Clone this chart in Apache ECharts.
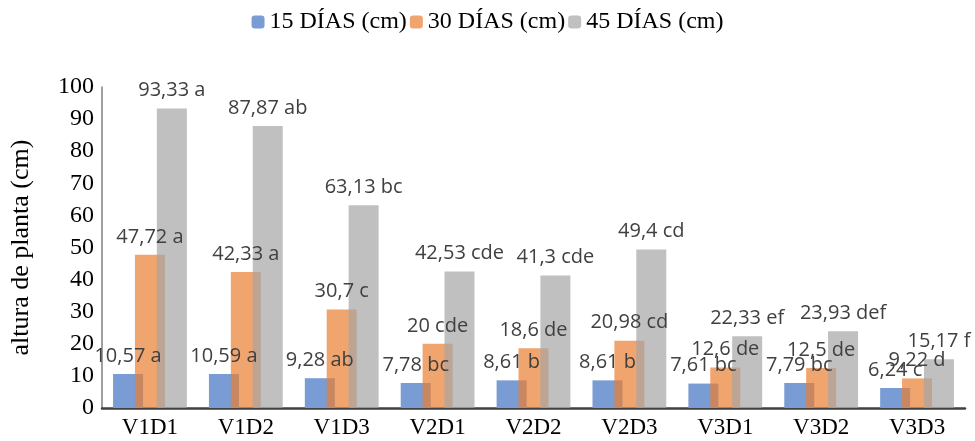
<!DOCTYPE html>
<html>
<head>
<meta charset="utf-8">
<script src="https://cdn.jsdelivr.net/npm/echarts@6/dist/echarts.min.js"></script>
<style>
  html, body { margin: 0; padding: 0; background: #fff; }
  #chart { width: 975px; height: 441px; }
</style>
</head>
<body>
<div id="chart"></div>
<script>
// datos
var categorias = ['V1D1', 'V1D2', 'V1D3', 'V2D1', 'V2D2', 'V2D3', 'V3D1', 'V3D2', 'V3D3'];
var nombres = ['15 DÍAS (cm)', '30 DÍAS (cm)', '45 DÍAS (cm)'];

var dias15 = [10.57, 10.59, 9.28, 7.78, 8.61, 8.61, 7.61, 7.79, 6.24];
var dias30 = [47.72, 42.33, 30.7, 20, 18.6, 20.98, 12.6, 12.5, 9.22];
var dias45 = [93.33, 87.87, 63.13, 42.53, 41.3, 49.4, 22.33, 23.93, 15.17];

var letras15 = ['a', 'a', 'ab', 'bc', 'b', 'b', 'bc', 'bc', 'c'];
var letras30 = ['a', 'a', 'c', 'cde', 'de', 'cd', 'de', 'de', 'd'];
var letras45 = ['a', 'ab', 'bc', 'cde', 'cde', 'cd', 'ef', 'def', 'f'];

var colores = ['rgb(122,156,212)', 'rgba(234,126,48,0.7)', 'rgba(165,165,165,0.7)'];

function serie(i, valores, letras) {
  return {
    name: nombres[i],
    type: 'bar',
    data: valores,
    barWidth: 30,
    barGap: '-27%',
    itemStyle: { color: colores[i] },
    label: {
      show: true,
      position: 'top',
      distance: 8,
      fontFamily: 'Open Sans',
      fontSize: 20,
      color: '#404040',
      formatter: function (p) {
        return String(p.value).replace('.', ',') + ' ' + letras[p.dataIndex];
      }
    }
  };
}

var myChart = echarts.init(document.getElementById('chart'));
myChart.setOption({
  backgroundColor: '#fff',
  animation: false,
  legend: {
    top: 5,
    left: 'center',
    itemWidth: 13,
    itemHeight: 13,
    itemGap: 3,
    textStyle: { fontFamily: 'Liberation Serif', fontSize: 24, color: '#000' },
    data: nombres
  },
  grid: { left: 100, right: 10, top: 87, bottom: 33 },
  xAxis: {
    type: 'category',
    data: categorias,
    axisLine: { lineStyle: { color: '#404040', width: 2.5 } },
    axisTick: { show: false },
    axisLabel: { fontFamily: 'Liberation Serif', fontSize: 23, color: '#000', margin: 8 }
  },
  yAxis: {
    type: 'value',
    min: 0,
    max: 100,
    interval: 10,
    name: 'altura de planta (cm)',
    nameLocation: 'middle',
    nameGap: 68,
    nameTextStyle: { fontFamily: 'Liberation Serif', fontSize: 26, color: '#000' },
    axisLine: { show: true, lineStyle: { color: '#7f7f7f', width: 1.5 } },
    axisTick: { show: false },
    splitLine: { show: false },
    axisLabel: { fontFamily: 'Liberation Serif', fontSize: 24, color: '#000', margin: 8 }
  },
  series: [
    serie(0, dias15, letras15),
    serie(1, dias30, letras30),
    serie(2, dias45, letras45)
  ]
});
</script>
</body>
</html>
